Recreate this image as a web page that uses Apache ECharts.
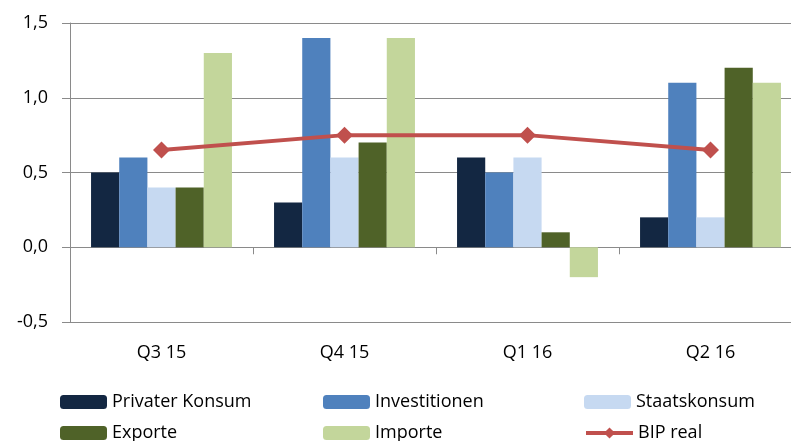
<!DOCTYPE html>
<html>
<head>
<meta charset="utf-8">
<script src="https://cdn.jsdelivr.net/npm/echarts@6/dist/echarts.min.js"></script>
<style>
  html, body { margin: 0; padding: 0; background: #fff; }
  #chart { width: 791px; height: 441px; }
</style>
</head>
<body>
<div id="chart"></div>
<script>
  // Quartale
  const quarters = ['Q3 15', 'Q4 15', 'Q1 16', 'Q2 16']
  // Beiträge (Balken)
  const privaterKonsum = [0.5, 0.3, 0.6, 0.2]
  const investitionen = [0.6, 1.4, 0.5, 1.1]
  const staatskonsum = [0.4, 0.6, 0.6, 0.2]
  const exporte = [0.4, 0.7, 0.1, 1.2]
  const importe = [1.3, 1.4, -0.2, 1.1]
  // Linie
  const bipReal = [0.65, 0.75, 0.75, 0.65]

  const font = '"Open Sans", sans-serif'
  const gray = '#8a8a8a'

  function bar (name, data, color) {
    return {
      name: name,
      type: 'bar',
      data: data,
      barGap: '0%',
      barCategoryGap: '23%',
      itemStyle: { color: color }
    }
  }

  function legendAt (name, left, top) {
    return {
      data: [name],
      left: left,
      top: top,
      padding: 0,
      itemWidth: 47,
      itemHeight: 14,
      selectedMode: false,
      lineStyle: { width: 4 },
      textStyle: { fontFamily: font, fontSize: 18, color: '#000' }
    }
  }

  const chart = echarts.init(document.getElementById('chart'))
  chart.setOption({
    animation: false,
    // Plotfläche ragt rechts über den Rand hinaus (wie im Original abgeschnitten)
    grid: { left: 70, top: 23, width: 732, bottom: 119, outerBoundsMode: 'none' },
    legend: [
      legendAt('Privater Konsum', 60, 393),
      legendAt('Investitionen', 323, 393),
      legendAt('Staatskonsum', 584, 393),
      legendAt('Exporte', 60, 424),
      legendAt('Importe', 323, 424),
      legendAt('BIP real', 584, 424)
    ],
    xAxis: [
      {
        type: 'category',
        data: quarters,
        axisLine: { onZero: true, lineStyle: { color: gray, width: 1 } },
        axisTick: { show: true, length: 7, interval: 0, lineStyle: { color: gray } },
        axisLabel: { show: false }
      },
      {
        type: 'category',
        data: quarters,
        position: 'bottom',
        axisLine: { show: false, onZero: false },
        axisTick: { show: false },
        axisLabel: { margin: 22, fontFamily: font, fontSize: 18, color: '#000' }
      }
    ],
    yAxis: {
      type: 'value',
      min: -0.5,
      max: 1.5,
      interval: 0.5,
      axisLine: { show: true, lineStyle: { color: gray } },
      axisTick: { show: true, length: 8, lineStyle: { color: gray } },
      splitLine: { lineStyle: { color: gray, width: 1 } },
      axisLabel: {
        margin: 22,
        fontFamily: font,
        fontSize: 18,
        color: '#000',
        formatter: v => v.toFixed(1).replace('.', ',')
      }
    },
    series: [
      bar('Privater Konsum', privaterKonsum, '#132742'),
      bar('Investitionen', investitionen, '#4f81bd'),
      bar('Staatskonsum', staatskonsum, '#c6d9f1'),
      bar('Exporte', exporte, '#4f6228'),
      bar('Importe', importe, '#c3d69b'),
      {
        name: 'BIP real',
        type: 'line',
        data: bipReal,
        symbol: 'diamond',
        symbolSize: 17,
        lineStyle: { color: '#c0504d', width: 4 },
        itemStyle: { color: '#c0504d' },
        z: 5
      }
    ]
  })
</script>
</body>
</html>
